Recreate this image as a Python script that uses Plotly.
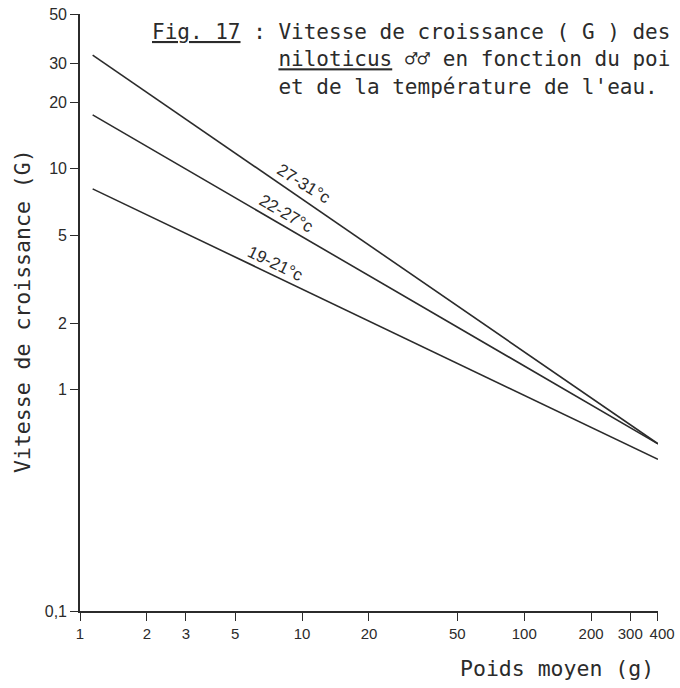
import plotly.graph_objects as go

# ---- data ----
poids = [1.14, 400]                 # Poids moyen (g)
g_27_31 = [32.6, 0.57]              # Vitesse de croissance (G), 27-31 °C
g_22_27 = [17.5, 0.57]              # 22-27 °C
g_19_21 = [8.1, 0.485]              # 19-21 °C

series = [
    ("27-31°c", g_27_31),
    ("22-27°c", g_22_27),
    ("19-21°c", g_19_21),
]

x_tickvals = [1, 2, 3, 5, 10, 20, 50, 100, 200, 300, 400]
x_ticktext = ["1", "2", "3", "5", "10", "20", "50", "100", "200", "300",
              "\u00a0\u00a0400"]
y_tickvals = [0.1, 1, 2, 5, 10, 20, 30, 50]
y_ticktext = ["0,1", "1", "2", "5", "10", "20", "30", "50"]

INK = "#2b2b2b"
MONO = "DejaVu Sans Mono"
SANS = "Liberation Sans Narrow, Liberation Sans, Arial"

fig = go.Figure()
for name, vals in series:
    fig.add_trace(go.Scatter(x=poids, y=vals, mode="lines", name=name,
                             line=dict(color=INK, width=1.6), showlegend=False,
                             hoverinfo="skip"))

# plot area in pixels: x 80..658, y 14..611
def px(x):
    return (x - 80) / 578.0

def py(y):
    return (611 - y) / 597.0

ann = []
# line labels
for text, cx, cy, ang in [("27-31°c", 303, 184, 32),
                          ("22-27°c", 286, 213, 30),
                          ("19-21°c", 275, 263, 26)]:
    ann.append(dict(text=text, x=px(cx), y=py(cy), xref="paper", yref="paper",
                    xanchor="center", yanchor="middle",
                    showarrow=False, textangle=ang,
                    font=dict(family=SANS, size=17, color=INK)))

UL = "<span style='text-decoration:underline'>%s</span>"
IND = "\u00a0" * 10
title = ((UL % "Fig. 17") + " : Vitesse de croissance ( G ) des<br>"
         + IND + (UL % "niloticus") + " ♂♂ en fonction du poi<br>"
         + IND + "et de la température de l'eau.")
ann.append(dict(text=title, x=px(150), y=py(18), xref="paper", yref="paper",
                xanchor="left", yanchor="top", align="left", showarrow=False,
                font=dict(family=MONO, size=21, color=INK)))
# axis titles
ann.append(dict(text="Poids moyen (g)", x=px(656), y=py(668), xref="paper",
                yref="paper", xanchor="right", yanchor="middle", showarrow=False,
                font=dict(family=MONO, size=21.5, color=INK)))
ann.append(dict(text="Vitesse de croissance (G)", x=px(22), y=py(311),
                xref="paper", yref="paper", xanchor="center", yanchor="middle",
                textangle=-90, showarrow=False,
                font=dict(family=MONO, size=21.5, color=INK)))

fig.update_layout(
    width=680, height=688,
    margin=dict(l=80, r=22, t=14, b=77),
    paper_bgcolor="white", plot_bgcolor="white",
    annotations=ann,
    xaxis=dict(type="log", range=[0, 2.6022], tickvals=x_tickvals,
               ticktext=x_ticktext, tickangle=0, ticks="outside", ticklen=8,
               tickwidth=1.3, tickcolor=INK, showline=True, linecolor=INK,
               linewidth=1.6, showgrid=False, zeroline=False, automargin=False,
               tickfont=dict(family=SANS, size=15, color=INK)),
    yaxis=dict(type="log", range=[-1, 1.69897], tickvals=y_tickvals,
               ticktext=y_ticktext, ticks="outside", ticklen=8, tickwidth=1.3,
               tickcolor=INK, showline=True, linecolor=INK, linewidth=1.6,
               showgrid=False, zeroline=False, automargin=False,
               tickfont=dict(family=SANS, size=16, color=INK)),
)

fig.write_html("out.html")
